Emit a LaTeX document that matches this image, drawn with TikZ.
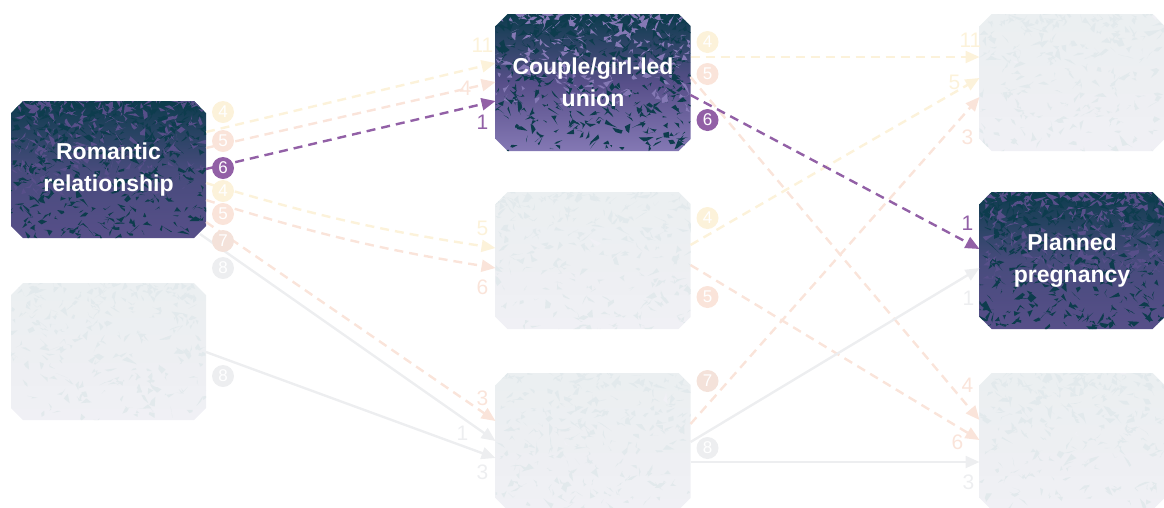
\documentclass[tikz,border=0pt]{standalone}
\usepackage{fontspec}
\setmainfont{Liberation Sans}
\usepackage{tikz}
\usetikzlibrary{calc,positioning,backgrounds,arrows.meta}
\definecolor{darkteal}{HTML}{0D3C4D}
\definecolor{midviolet}{HTML}{474B7C}
\definecolor{deeppurple}{HTML}{574F89}
\definecolor{lightpurple}{HTML}{8478B4}
\definecolor{linepurple}{HTML}{9260A6}
\definecolor{paleyellow}{HTML}{FCF2DA}
\definecolor{palepink}{HTML}{FAE4DA}
\definecolor{palebrown}{HTML}{F4E2DA}
\definecolor{palegrey}{HTML}{EDEEF0}
\definecolor{boxtop}{HTML}{EBEFF1}
\definecolor{boxmid}{HTML}{EDEFF2}
\definecolor{boxbottom}{HTML}{F0F0F5}
\definecolor{boxspeck}{HTML}{E2E9EC}

\begin{document}
\begin{tikzpicture}[x=1pt,y=-1pt]

\tikzset{stagebox/.style={rectangle,inner sep=0pt,outer sep=0pt,minimum width=195pt,minimum height=137pt,text=white,align=center,font=\bfseries\fontsize{23}{32}\selectfont},
numdot/.style={circle,inner sep=0pt,minimum size=22pt,text=white,font=\fontsize{17}{17}\selectfont},
flowlabel/.style={inner sep=0pt,font=\fontsize{21}{21}\selectfont},
flow/.style={line width=2.4pt,-{Triangle[length=14pt,width=12pt]}},
dashflow/.style={flow,dash pattern=on 9pt off 6pt}}

\useasboundingbox (0,0) rectangle (1164,507);

% Boxes
\node[stagebox] (A) at (108.5,169.5) {Romantic\\relationship};
\node[stagebox] (B) [below=45pt of A] {};
\node[stagebox] (C) at (593,82.5) {Couple/girl-led\\union};
\node[stagebox] (D) [below=41pt of C] {};
\node[stagebox] (E) [below=44pt of D] {};
\node[stagebox,minimum width=185pt] (F) [right=289pt of C] {};
\node[stagebox,minimum width=185pt] (G) [below=41pt of F] {Planned\\pregnancy};
\node[stagebox,minimum width=185pt] (H) [below=44pt of G] {};

% Cut-corner fills with speckles
\begin{pgfonlayer}{background}
\pgfmathsetseed{42}
\foreach \b/\w/\tc/\mc/\bc/\sc/\n/\m in {A/195/darkteal/midviolet/deeppurple/darkteal/450/260,
  C/195/darkteal/deeppurple/lightpurple/darkteal/450/260, G/185/darkteal/midviolet/deeppurple/darkteal/450/260,
  B/195/boxtop/boxmid/boxbottom/boxspeck/260/2, D/195/boxtop/boxmid/boxbottom/boxspeck/260/2,
  E/195/boxtop/boxmid/boxbottom/boxspeck/260/2, F/185/boxtop/boxmid/boxbottom/boxspeck/260/2,
  H/185/boxtop/boxmid/boxbottom/boxspeck/260/2}{
  \begin{scope}[shift={(\b.north west)}]
    \shade[top color=\tc,bottom color=\bc,middle color=\mc] (12,0) -- (\w-12,0) -- (\w,12) -- (\w,125) -- (\w-12,137) -- (12,137) -- (0,125) -- (0,12) -- cycle;
    \clip (12,0) -- (\w-12,0) -- (\w,12) -- (\w,125) -- (\w-12,137) -- (12,137) -- (0,125) -- (0,12) -- cycle;
    \foreach \k in {1,...,\n} {
      \pgfmathsetmacro{\sx}{rnd*\w}
      \pgfmathsetmacro{\sy}{137*rnd^1.5}
      \fill[\sc] (\sx,\sy) -- ++(rand*6,rand*5) -- ++(rand*6,rand*5) -- ++(rand*6,rand*5) -- cycle;}
    \foreach \k in {1,...,\m} {
      \pgfmathsetmacro{\sx}{rnd*\w}
      \pgfmathsetmacro{\sy}{90*rnd^2}
      \fill[\bc] (\sx,\sy) -- ++(rand*6,rand*5) -- ++(rand*6,rand*5) -- ++(rand*6,rand*5) -- cycle;}
  \end{scope}}
\end{pgfonlayer}

% Edges
\draw[dashflow,paleyellow] ($(A.east)+(0,-37.5)$) -- ($(C.west)+(0,-19.5)$);
\draw[dashflow,palepink] ($(A.east)+(0,-21.5)$) -- ($(C.west)+(0,-0.5)$);
\draw[dashflow,paleyellow] ($(A.east)+(0,13.5)$) to[bend right=4] ($(D.west)+(0,-12.5)$);
\draw[dashflow,palepink] ($(A.east)+(0,30.5)$) to[bend right=4] ($(D.west)+(0,7.5)$);
\draw[dashflow,palepink] ($(A.east)+(0,52.5)$) -- ($(E.west)+(0,-20.5)$);
\draw[flow,palegrey] ($(A.east)+(-6,64.5)$) -- ($(E.west)+(0,-0.5)$);
\draw[flow,palegrey] ($(B.east)+(0,0.5)$) -- ($(E.west)+(0,16.5)$);
\draw[dashflow,paleyellow] ($(C.east)+(0,-25.5)$) -- ($(F.west)+(0,-25.5)$);
\draw[dashflow,palepink] ($(C.east)+(0,-5.5)$) -- ($(H.west)+(0,-21.5)$);
\draw[dashflow,paleyellow] ($(D.east)+(0,-15.5)$) -- ($(F.west)+(0,-4.5)$);
\draw[dashflow,palepink] ($(D.east)+(0,4.5)$) -- ($(H.west)+(0,-1.5)$);
\draw[dashflow,palepink] ($(E.east)+(0,-17.5)$) -- ($(F.west)+(0,14.5)$);
\draw[flow,palegrey] ($(E.east)+(0,0.5)$) -- ($(G.west)+(0,7.5)$);
\draw[flow,palegrey] ($(E.east)+(0,20.5)$) -- ($(H.west)+(0,20.5)$);
\draw[dashflow,linepurple] ($(A.east)+(0,-0.5)$) -- ($(C.west)+(0,18.5)$);
\draw[dashflow,linepurple] ($(C.east)+(0,12.5)$) -- ($(G.west)+(0,-11.5)$);

% Numbered dots
\foreach \n/\dy/\c [count=\i] in {4/-57.5/paleyellow,5/-28.5/palepink,6/-1.5/linepurple,4/21.5/paleyellow,5/44.5/palepink,7/71.5/palebrown,8/98.5/palegrey}
  \node[numdot,fill=\c] (a\i) at ($(A.east)+(17,\dy)$) {\n};
\node[numdot,fill=palegrey] (b1) at ($(B.east)+(17,24.5)$) {8};
\node[numdot,fill=paleyellow] (c1) at ($(C.east)+(17,-40.5)$) {4};
\node[numdot,fill=palepink] (c2) at ($(C.east)+(17,-8.5)$) {5};
\node[numdot,fill=linepurple] (c3) at ($(C.east)+(17,37.5)$) {6};
\node[numdot,fill=paleyellow] (d1) at ($(D.east)+(17,-42.5)$) {4};
\node[numdot,fill=palepink] (d2) at ($(D.east)+(17,36.5)$) {5};
\node[numdot,fill=palebrown] (e1) at ($(E.east)+(17,-60.5)$) {7};
\node[numdot,fill=palegrey] (e2) at ($(E.east)+(17,6.5)$) {8};

% Counts at arrow heads
\node[flowlabel,text=paleyellow] (lc1) at ($(C.west)+(-13,-37.5)$) {11};
\node[flowlabel,text=palepink] (lc2) at ($(C.west)+(-30,5.5)$) {4};
\node[flowlabel,text=linepurple] (lc3) at ($(C.west)+(-13,39.5)$) {1};
\node[flowlabel,text=paleyellow] (ld1) at ($(D.west)+(-13,-32.5)$) {5};
\node[flowlabel,text=palepink] (ld2) at ($(D.west)+(-13,26.5)$) {6};
\node[flowlabel,text=palepink] (le1) at ($(E.west)+(-13,-43.5)$) {3};
\node[flowlabel,text=palegrey] (le2) at ($(E.west)+(-33,-8.5)$) {1};
\node[flowlabel,text=palegrey] (le3) at ($(E.west)+(-13,30.5)$) {3};
\node[flowlabel,text=paleyellow] (lf1) at ($(F.west)+(-9,-42.5)$) {11};
\node[flowlabel,text=paleyellow] (lf2) at ($(F.west)+(-25,-0.5)$) {5};
\node[flowlabel,text=palepink] (lf3) at ($(F.west)+(-12,54.5)$) {3};
\node[flowlabel,text=linepurple] (lg1) at ($(G.west)+(-12,-37.5)$) {1};
\node[flowlabel,text=palegrey] (lg2) at ($(G.west)+(-11,37.5)$) {1};
\node[flowlabel,text=palepink] (lh1) at ($(H.west)+(-12,-56.5)$) {4};
\node[flowlabel,text=palepink] (lh2) at ($(H.west)+(-22,0.5)$) {6};
\node[flowlabel,text=palegrey] (lh3) at ($(H.west)+(-11,40.5)$) {3};

\end{tikzpicture}
\end{document}
